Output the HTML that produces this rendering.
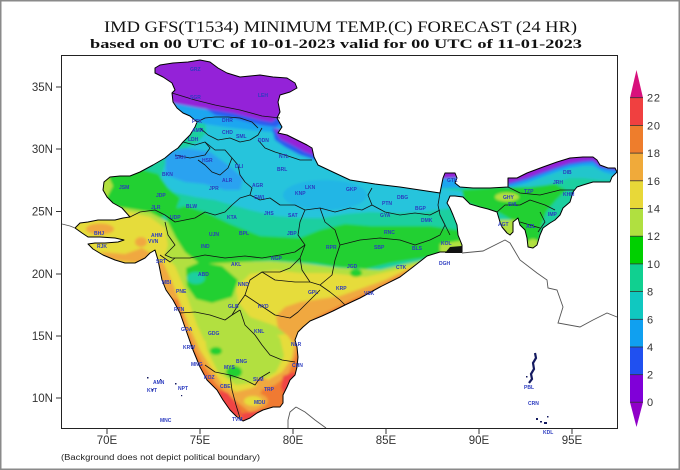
<!DOCTYPE html>
<html><head><meta charset="utf-8"><style>
html,body{margin:0;padding:0;background:#fff;}
svg{display:block;}
</style></head><body>
<svg width="680" height="470" viewBox="0 0 680 470" xmlns="http://www.w3.org/2000/svg">
<defs>
<clipPath id="ind"><path d="M155,68 L160,65 L173,63 L188,62 L200,60 L210,62 L218,68 L227,73 L240,77 L260,75 L273,77 L287,78 L295,83 L297,88 L290,92 L280,95 L278,102 L280,112 L277,118 L282,127 L278,133 L287,135 L297,140 L307,145 L312,148 L314,157 L318,165 L335,173 L350,180 L375,184 L400,187 L420,190 L440,193 L443,178 L445,173 L455,173 L457,178 L455,183 L460,187 L473,188 L490,188 L508,187 L508,178 L517,178 L527,173 L543,167 L557,162 L570,158 L583,157 L593,157 L597,160 L600,165 L608,168 L615,168 L617,172 L612,177 L610,182 L603,182 L593,182 L583,185 L577,187 L573,192 L570,202 L563,208 L560,215 L555,220 L550,223 L543,228 L540,235 L537,245 L533,248 L528,247 L527,238 L525,230 L520,225 L518,218 L513,222 L513,232 L510,235 L507,233 L502,227 L500,222 L497,212 L488,209 L480,207 L470,204 L463,197 L455,196 L450,196 L447,203 L450,208 L453,215 L457,225 L458,235 L462,245 L462,252 L450,252 L440,252 L427,256 L413,267 L400,277 L380,287 L360,298 L345,305 L333,311 L322,316 L310,321 L303,327 L298,332 L295,340 L297,347 L298,357 L297,367 L295,375 L290,380 L287,387 L283,395 L283,403 L280,407 L273,407 L263,410 L257,413 L250,418 L243,421 L237,417 L230,410 L223,400 L217,390 L207,380 L200,367 L193,350 L187,333 L180,313 L173,300 L166,290 L162,280 L160,270 L158,260 L155,250 L150,253 L145,258 L135,263 L125,263 L115,260 L103,255 L93,249 L88,244 L95,243 L105,243 L118,242 L124,240 L115,238 L100,237 L88,237 L82,233 L75,228 L80,223 L88,222 L98,220 L115,220 L123,218 L130,217 L122,208 L113,203 L107,197 L103,190 L104,182 L110,177 L120,176 L130,176 L140,172 L153,165 L165,158 L172,152 L178,148 L183,142 L190,135 L195,127 L197,122 L190,116 L183,113 L177,108 L173,102 L172,93 L175,90 L172,83 L163,77 L155,73 Z"/></clipPath>
<filter id="bl" x="-5%" y="-5%" width="110%" height="110%"><feGaussianBlur stdDeviation="1.3"/></filter>
</defs>

<rect x="0" y="0" width="680" height="470" fill="#fff"/>

<!-- Title -->
<text x="104" y="32" font-family="Liberation Serif, serif" font-size="16" textLength="473" lengthAdjust="spacingAndGlyphs" fill="#111">IMD GFS(T1534) MINIMUM TEMP.(C) FORECAST (24 HR)</text>
<text x="90" y="48" font-family="Liberation Serif, serif" font-size="13" font-weight="bold" textLength="492" lengthAdjust="spacingAndGlyphs" fill="#111">based on 00 UTC of 10-01-2023 valid for 00 UTC of 11-01-2023</text>

<!-- Map fill -->
<g clip-path="url(#ind)">
<g filter="url(#bl)">
<rect x="40" y="40" width="600" height="400" fill="#1ccfa0"/>
<!-- cyan -->
<path fill="#28c4dc" d="M205,114 L300,106 L316,150 L380,180 L440,188 L465,192 L470,202 L450,208 L425,212 L395,213 L370,212 L345,214 L322,218 L300,218 L276,216 L250,210 L232,205 L215,200 L195,197 L172,192 L160,180 L166,162 L182,150 L198,142 L206,133 Z"/>
<path fill="#22c6cc" d="M500,150 L622,150 L622,180 L600,180 L583,178 L570,178 L557,182 L543,186 L527,191 L505,196 Z"/>
<!-- light blue -->
<path fill="#1ea6f0" d="M172,100 L290,100 L286,134 L270,132 L250,130 L225,127 L205,124 L190,120 L175,112 Z"/>
<path fill="#2aa2f0" d="M165,152 L185,148 L210,152 L228,165 L243,178 L240,190 L225,190 L205,184 L185,182 L166,175 Z"/>
<ellipse cx="325" cy="195" rx="42" ry="15" fill="#1ea6f0" opacity="0.45"/>
<path fill="#1ea6f0" d="M500,150 L622,150 L622,176 L618,176 L603,172 L593,166 L583,166 L570,168 L557,172 L543,177 L527,183 L505,189 Z"/>
<path fill="#1ea6f0" d="M436,166 L464,166 L464,188 L436,188 Z"/>
<!-- blue -->
<path fill="#2a5cf0" d="M200,105 L285,105 L283,122 L276,127 L260,125 L233,118 L215,115 Z"/>
<path fill="#2a5cf0" d="M272,128 L316,144 L316,160 L300,155 L285,147 L275,140 Z"/>
<path fill="#2a5cf0" d="M500,150 L622,150 L622,171 L615,171 L600,168 L593,162 L583,163 L570,165 L557,169 L543,174 L527,180 L505,186 Z"/>
<!-- purple -->
<path fill="#9420d8" d="M140,50 L310,50 L300,92 L283,103 L279,116 L272,122 L260,120 L233,113 L200,108 L173,103 L140,100 Z"/>
<path fill="#9420d8" d="M274,128 L290,133 L306,141 L316,147 L316,156 L305,152 L292,145 L280,139 Z"/>
<path fill="#9420d8" d="M436,166 L464,166 L464,177 L436,179 Z"/>
<path fill="#9420d8" d="M500,150 L622,150 L622,169 L615,169 L600,166 L593,160 L583,161 L570,163 L557,167 L543,172 L527,178 L505,184 Z"/>
<!-- green 10-12 -->
<path fill="#22d030" d="M96,178 L118,173 L140,169 L158,174 L168,188 L180,198 L176,210 L160,218 L140,220 L124,214 L110,204 L100,192 Z"/>
<path fill="#22d030" d="M165,212 L185,206 L205,212 L230,224 L260,236 L300,238 L320,230 L345,224 L370,226 L400,226 L430,226 L458,230 L464,248 L440,256 L415,259 L390,263 L365,269 L340,267 L315,263 L300,262 L270,260 L240,262 L215,264 L195,264 L180,250 L172,235 Z"/>
<path fill="#22d030" d="M462,190 L500,187 L530,187 L555,184 L566,190 L556,200 L546,212 L541,226 L538,250 L524,250 L521,230 L514,221 L500,213 L480,208 L464,201 Z"/>
<!-- yellow-green 12-14 -->
<path fill="#b2e040" d="M96,176 L108,175 L113,186 L106,199 L98,190 Z"/>
<ellipse cx="507" cy="197" rx="12" ry="4.5" fill="#b2e040"/>
<path fill="#b2e040" d="M499,220 L516,220 L516,238 L501,232 Z"/>
<ellipse cx="533" cy="244" rx="6" ry="5" fill="#b2e040"/>
<path fill="#b2e040" d="M440,244 L465,240 L465,256 L440,256 Z"/>
<path fill="#b2e040" d="M50,200 L125,208 L150,212 L168,222 L176,238 L185,252 L200,264 L240,262 L270,261 L300,263 L340,268 L380,270 L420,261 L445,256 L470,252 L470,440 L50,440 Z"/>
<!-- yellow 14-16 -->
<path fill="#e6dc3a" d="M50,205 L125,211 L150,217 L165,228 L168,245 L165,256 L175,266 L183,285 L190,305 L197,325 L204,340 L194,350 L50,350 Z"/>
<path fill="#e6dc3a" d="M236,288 L250,274 L275,270 L300,273 L330,273 L365,277 L400,269 L430,261 L470,255 L470,300 L340,330 L305,345 L290,332 L270,324 L250,317 L238,302 Z"/>
<path fill="#e6dc3a" d="M194,345 L212,337 L235,343 L260,338 L285,334 L300,330 L320,330 L320,440 L180,440 Z"/>
<!-- yellow-green hole Karnataka -->
<path fill="#b2e040" d="M203,325 L232,317 L262,322 L280,338 L284,356 L276,372 L258,382 L236,385 L218,372 L207,350 Z"/>
<!-- orange-yellow 16-18 -->
<ellipse cx="100" cy="229" rx="14" ry="5.5" fill="#f0a840"/>
<path fill="#f0a840" d="M100,252 L125,254 L142,248 L152,254 L140,263 L110,260 Z"/>
<ellipse cx="141" cy="242" rx="6" ry="5" fill="#f0a840"/>
<path fill="#f0a840" d="M152,262 L163,262 L172,282 L181,305 L190,328 L200,350 L210,366 L222,384 L236,392 L252,388 L268,380 L282,372 L292,358 L294,345 L288,336 L278,328 L276,316 L285,307 L300,302 L320,299 L340,296 L360,289 L385,280 L410,268 L440,255 L470,250 L470,440 L148,440 Z"/>
<!-- orange 18-20 -->
<path fill="#f07a30" d="M170,298 L178,300 L185,325 L194,348 L204,366 L216,384 L230,396 L242,406 L252,414 L262,407 L258,398 L262,390 L275,385 L288,375 L296,355 L300,335 L315,318 L345,303 L375,289 L405,273 L432,260 L470,250 L470,440 L160,440 Z"/>
<ellipse cx="254" cy="401" rx="14" ry="8" fill="#f0a840"/>
<ellipse cx="253" cy="401" rx="9" ry="5" fill="#e6dc3a"/>
<ellipse cx="262" cy="382" rx="7" ry="4" fill="#f0a840"/>
<!-- red 20-22 -->
<path fill="#f04444" d="M219,390 L228,393 L236,403 L241,413 L236,418 L227,410 L220,400 Z"/>
<path fill="#f04444" d="M283,376 L294,372 L299,380 L297,396 L287,398 L281,388 Z"/>
<path fill="#f04444" d="M240,414 L250,412 L262,410 L266,413 L255,420 L244,423 Z"/>
<!-- green holes -->
<path fill="#22d030" d="M186,268 L200,262 L222,266 L238,280 L232,297 L212,303 L196,299 L187,286 Z"/>
<ellipse cx="196" cy="278" rx="9" ry="6" fill="#1ccfa0"/>
<ellipse cx="216" cy="351" rx="6" ry="4" fill="#22d030"/>
<ellipse cx="234" cy="372" rx="8" ry="6" fill="#22d030"/>
<ellipse cx="356" cy="273" rx="6" ry="4" fill="#22d030"/>
</g>
</g>

<!-- state boundaries -->
<g fill="none" stroke="#111" stroke-width="0.8" stroke-linejoin="round">
<path d="M172,93 L195,100 L215,105 L240,110 L262,116 L280,118"/>
<path d="M197,122 L205,118 L215,117 L228,117 L240,118 L252,122 L258,128"/>
<path d="M200,128 L208,135 L218,140 L230,138 L240,142 L250,140 L258,135 L262,128"/>
<path d="M258,140 L265,148 L275,152 L288,156 L300,160 L312,160"/>
<path d="M183,142 L195,145 L205,142 L210,148 L205,155 L190,158 L175,155"/>
<path d="M205,142 L215,150 L225,150 L232,158 L228,168 L220,175 L212,172 L205,165 L198,160"/>
<path d="M232,158 L238,165 L240,175 L245,182 L252,188 L250,195 L240,198 L232,205 L225,212 L215,215 L205,212 L195,218 L185,220 L175,222 L165,215 L155,210 L140,212 L130,217"/>
<path d="M250,195 L260,200 L270,198 L280,205 L295,205 L305,210 L320,208 L335,212 L350,208 L362,210 L372,205"/>
<path d="M372,205 L368,195 L372,188"/>
<path d="M372,205 L385,212 L400,215 L415,213 L430,215 L440,210"/>
<path d="M165,222 L168,235 L175,245 L165,255 L172,258 L190,258 L205,255 L225,258 L245,256 L262,258 L280,255 L295,252 L305,245"/>
<path d="M305,210 L300,222 L298,235 L305,245 L300,258"/>
<path d="M320,208 L325,222 L335,230 L340,245 L335,260 L332,275 L320,285 L310,282 L302,270 L300,258"/>
<path d="M340,245 L360,240 L380,238 L400,240 L415,245 L430,240 L440,235 L445,225 L440,215"/>
<path d="M320,285 L330,292 L340,300 L345,305"/>
<path d="M300,258 L290,268 L280,272 L262,272 L250,280 L245,295 L238,305 L232,315"/>
<path d="M262,272 L275,280 L295,282 L310,282"/>
<path d="M245,295 L260,305 L275,315 L290,318 L298,312 L310,300 L320,290"/>
<path d="M180,313 L195,312 L210,315 L225,320 L232,315 L240,310"/>
<path d="M240,310 L245,325 L255,335 L262,345 L270,355 L282,360 L295,362"/>
<path d="M205,365 L215,372 L230,375 L245,380 L255,385 L260,378 L270,372"/>
<path d="M230,375 L232,390 L236,405 L240,418"/>
<path d="M160,255 L170,262 L175,258"/>
<path d="M508,187 L520,193 L540,195 L560,190 L575,190"/>
<path d="M497,212 L505,205 L520,205 L530,200 L545,205 L555,210"/>
<path d="M540,212 L545,222 L538,232"/>
<path d="M520,222 L530,225 L540,228"/>
<path d="M440,193 L438,205 L440,215 L445,225 L450,235"/>
</g>

<!-- India outline -->
<path fill="none" stroke="#000" stroke-width="1" stroke-linejoin="round" d="M155,68 L160,65 L173,63 L188,62 L200,60 L210,62 L218,68 L227,73 L240,77 L260,75 L273,77 L287,78 L295,83 L297,88 L290,92 L280,95 L278,102 L280,112 L277,118 L282,127 L278,133 L287,135 L297,140 L307,145 L312,148 L314,157 L318,165 L335,173 L350,180 L375,184 L400,187 L420,190 L440,193 L443,178 L445,173 L455,173 L457,178 L455,183 L460,187 L473,188 L490,188 L508,187 L508,178 L517,178 L527,173 L543,167 L557,162 L570,158 L583,157 L593,157 L597,160 L600,165 L608,168 L615,168 L617,172 L612,177 L610,182 L603,182 L593,182 L583,185 L577,187 L573,192 L570,202 L563,208 L560,215 L555,220 L550,223 L543,228 L540,235 L537,245 L533,248 L528,247 L527,238 L525,230 L520,225 L518,218 L513,222 L513,232 L510,235 L507,233 L502,227 L500,222 L497,212 L488,209 L480,207 L470,204 L463,197 L455,196 L450,196 L447,203 L450,208 L453,215 L457,225 L458,235 L462,245 L462,252 L450,252 L440,252 L427,256 L413,267 L400,277 L380,287 L360,298 L345,305 L333,311 L322,316 L310,321 L303,327 L298,332 L295,340 L297,347 L298,357 L297,367 L295,375 L290,380 L287,387 L283,395 L283,403 L280,407 L273,407 L263,410 L257,413 L250,418 L243,421 L237,417 L230,410 L223,400 L217,390 L207,380 L200,367 L193,350 L187,333 L180,313 L173,300 L166,290 L162,280 L160,270 L158,260 L155,250 L150,253 L145,258 L135,263 L125,263 L115,260 L103,255 L93,249 L88,244 L95,243 L105,243 L118,242 L124,240 L115,238 L100,237 L88,237 L82,233 L75,228 L80,223 L88,222 L98,220 L115,220 L123,218 L130,217 L122,208 L113,203 L107,197 L103,190 L104,182 L110,177 L120,176 L130,176 L140,172 L153,165 L165,158 L172,152 L178,148 L183,142 L190,135 L195,127 L197,122 L190,116 L183,113 L177,108 L173,102 L172,93 L175,90 L172,83 L163,77 L155,73 Z"/>
<path d="M450,247 L462,246 L462,253 L445,253 Z" fill="#111"/>

<!-- grey neighbour coastlines -->
<g fill="none" stroke="#555" stroke-width="0.9">
<path d="M462,253 L483,251 L505,240 L510,243 L520,260 L537,273 L547,280 L548,288 L557,290 L563,307 L558,323 L580,327 L593,320 L607,313 L617,317"/>
<path d="M62,224 L70,226 L75,228"/>
<path d="M296,407 L290,412 L288,420 L288,428"/>
<path d="M296,407 L305,412 L315,420 L326,428"/>
</g>

<!-- islands -->
<path d="M535,353 L536,358 L533,363 L534,369 L531,374 L532,379 L529,383" stroke="#141a60" stroke-width="2.2" fill="none"/>
<g fill="#141a60">
<rect x="526" y="376" width="1.5" height="1.5"/><rect x="536" y="418" width="2" height="2"/><rect x="540" y="421" width="2" height="1.5"/><rect x="544" y="422" width="3" height="2"/><rect x="547" y="416" width="1.5" height="1.5"/>
<rect x="152" y="389" width="1.5" height="1.5"/><rect x="175" y="383" width="1.5" height="1.5"/><rect x="147" y="377" width="1.5" height="1.5"/><rect x="181" y="395" width="1.2" height="1.2"/><rect x="160" y="379" width="1.2" height="1.2"/>
</g>

<!-- station labels -->
<g font-family="Liberation Sans, sans-serif" font-size="5" font-weight="bold" fill="#2b3bc0">
<text x="190" y="71">GRZ</text><text x="190" y="99">SGR</text><text x="258" y="97">LEH</text>
<text x="192" y="123">PTK</text><text x="222" y="122">DHR</text><text x="192" y="132">AMR</text><text x="222" y="134">CHD</text>
<text x="236" y="138">SML</text><text x="188" y="141">LDH</text><text x="258" y="142">DDN</text><text x="279" y="158">NTL</text>
<text x="175" y="159">SRH</text><text x="202" y="162">HSR</text><text x="235" y="168">DLI</text><text x="277" y="171">BRL</text>
<text x="162" y="176">BKN</text><text x="222" y="182">ALR</text><text x="252" y="187">AGR</text><text x="209" y="190">JPR</text>
<text x="119" y="189">JSM</text><text x="156" y="197">JDP</text><text x="305" y="189">LKN</text><text x="295" y="195">KNP</text>
<text x="254" y="199">GWL</text><text x="186" y="208">BLW</text><text x="151" y="209">JLR</text><text x="346" y="191">GKP</text>
<text x="397" y="199">DBG</text><text x="382" y="205">PTN</text><text x="415" y="210">BGP</text><text x="170" y="219">UDP</text>
<text x="227" y="219">KTA</text><text x="264" y="215">JHS</text><text x="288" y="217">SAT</text><text x="380" y="217">GYA</text>
<text x="421" y="222">DMK</text><text x="94" y="235">BHJ</text><text x="151" y="237">AHM</text><text x="209" y="236">UJN</text>
<text x="239" y="235">BPL</text><text x="287" y="235">JBP</text><text x="384" y="234">RNC</text><text x="441" y="245">KOL</text>
<text x="97" y="248">RJK</text><text x="148" y="243">VVN</text><text x="374" y="249">SBP</text><text x="412" y="250">BLS</text>
<text x="201" y="248">IND</text><text x="271" y="260">NGP</text><text x="326" y="249">RPR</text><text x="231" y="266">AKL</text>
<text x="347" y="268">JGD</text><text x="396" y="269">CTK</text><text x="439" y="265">DGH</text><text x="156" y="263">SRT</text>
<text x="162" y="284">MBI</text><text x="198" y="276">ABD</text><text x="176" y="293">PNE</text><text x="238" y="286">NND</text>
<text x="308" y="294">GPL</text><text x="336" y="290">KRP</text><text x="364" y="295">VSK</text><text x="174" y="311">RTN</text>
<text x="258" y="308">HYD</text><text x="228" y="308">GLB</text><text x="181" y="331">GOA</text><text x="208" y="335">GDG</text>
<text x="254" y="333">KNL</text><text x="291" y="346">NLR</text><text x="292" y="367">CHN</text><text x="183" y="349">KRW</text>
<text x="236" y="363">BNG</text><text x="191" y="366">MNG</text><text x="224" y="369">MYS</text><text x="220" y="388">CBE</text>
<text x="253" y="381">SLM</text><text x="264" y="391">TRP</text><text x="204" y="379">KOZ</text><text x="254" y="404">MDU</text>
<text x="232" y="421">TVM</text><text x="503" y="199">GHY</text><text x="508" y="206">SHL</text><text x="524" y="193">TZP</text>
<text x="563" y="174">DIB</text><text x="553" y="184">JRH</text><text x="563" y="196">KHM</text><text x="548" y="216">IMP</text>
<text x="526" y="228">AZL</text><text x="498" y="226">AGT</text><text x="447" y="182">GTK</text>
<text x="524" y="389">PBL</text><text x="528" y="405">CRN</text><text x="543" y="434">KDL</text>
<text x="153" y="384">AMN</text><text x="147" y="392">KVT</text><text x="178" y="390">NPT</text><text x="160" y="422">MNC</text>
</g>

<!-- frame -->
<rect x="61.5" y="55.5" width="556" height="373" fill="none" stroke="#222" stroke-width="1"/>

<!-- ticks -->
<g stroke="#333" stroke-width="1">
<line x1="56" y1="87" x2="61.5" y2="87"/><line x1="56" y1="149" x2="61.5" y2="149"/><line x1="56" y1="211.5" x2="61.5" y2="211.5"/>
<line x1="56" y1="274" x2="61.5" y2="274"/><line x1="56" y1="336" x2="61.5" y2="336"/><line x1="56" y1="398" x2="61.5" y2="398"/>
<line x1="107" y1="428.5" x2="107" y2="434"/><line x1="200" y1="428.5" x2="200" y2="434"/><line x1="293" y1="428.5" x2="293" y2="434"/>
<line x1="386" y1="428.5" x2="386" y2="434"/><line x1="479" y1="428.5" x2="479" y2="434"/><line x1="572" y1="428.5" x2="572" y2="434"/>
</g>
<g font-family="Liberation Sans, sans-serif" font-size="11.5" fill="#333" text-anchor="end">
<text x="53" y="91">35N</text><text x="53" y="153">30N</text><text x="53" y="215.5">25N</text>
<text x="53" y="278">20N</text><text x="53" y="340">15N</text><text x="53" y="402">10N</text>
</g>
<g font-family="Liberation Sans, sans-serif" font-size="11.5" fill="#333" text-anchor="middle">
<text x="107" y="444">70E</text><text x="200" y="444">75E</text><text x="293" y="444">80E</text>
<text x="386" y="444">85E</text><text x="479" y="444">90E</text><text x="572" y="444">95E</text>
</g>
<text x="61" y="460" font-family="Liberation Sans, sans-serif" font-size="8" fill="#222" textLength="199" lengthAdjust="spacingAndGlyphs">(Background does not depict political boundary)</text>

<!-- colorbar -->
<g>
<polygon points="630,97.7 643,97.7 636.5,70" fill="#d8107c"/>
<rect x="630" y="97.7" width="13" height="27.7" fill="#f04040"/>
<rect x="630" y="125.4" width="13" height="27.7" fill="#ee7d2c"/>
<rect x="630" y="153.1" width="13" height="27.7" fill="#f0aa3a"/>
<rect x="630" y="180.8" width="13" height="27.7" fill="#e8d838"/>
<rect x="630" y="208.5" width="13" height="27.7" fill="#b0e040"/>
<rect x="630" y="236.2" width="13" height="27.7" fill="#00d000"/>
<rect x="630" y="263.9" width="13" height="27.7" fill="#10d090"/>
<rect x="630" y="291.6" width="13" height="27.7" fill="#10c8c0"/>
<rect x="630" y="319.3" width="13" height="27.7" fill="#10a0f0"/>
<rect x="630" y="347" width="13" height="27.7" fill="#2050f0"/>
<rect x="630" y="374.7" width="13" height="27.5" fill="#8000d8"/>
<polygon points="630,402.2 643,402.2 636.5,427" fill="#9000c8"/>
<g stroke="#333" stroke-width="0.8">
<line x1="630" y1="97.7" x2="643" y2="97.7"/><line x1="630" y1="125.4" x2="643" y2="125.4"/><line x1="630" y1="153.1" x2="643" y2="153.1"/>
<line x1="630" y1="180.8" x2="643" y2="180.8"/><line x1="630" y1="208.5" x2="643" y2="208.5"/><line x1="630" y1="236.2" x2="643" y2="236.2"/>
<line x1="630" y1="263.9" x2="643" y2="263.9"/><line x1="630" y1="291.6" x2="643" y2="291.6"/><line x1="630" y1="319.3" x2="643" y2="319.3"/>
<line x1="630" y1="347" x2="643" y2="347"/><line x1="630" y1="374.7" x2="643" y2="374.7"/><line x1="630" y1="402.2" x2="643" y2="402.2"/>
</g>
<g font-family="Liberation Sans, sans-serif" font-size="11" fill="#333" letter-spacing="0.8">
<text x="647" y="101.7">22</text><text x="647" y="129.4">20</text><text x="647" y="157.1">18</text>
<text x="647" y="184.8">16</text><text x="647" y="212.5">14</text><text x="647" y="240.2">12</text>
<text x="647" y="267.9">10</text><text x="647" y="295.6">8</text><text x="647" y="323.3">6</text>
<text x="647" y="351">4</text><text x="647" y="378.7">2</text><text x="647" y="406.2">0</text>
</g>
</g>

<!-- outer border -->
<rect x="0.75" y="0.75" width="678.5" height="468.5" fill="none" stroke="#8a8a8a" stroke-width="1.5"/>
</svg>
</body></html>
